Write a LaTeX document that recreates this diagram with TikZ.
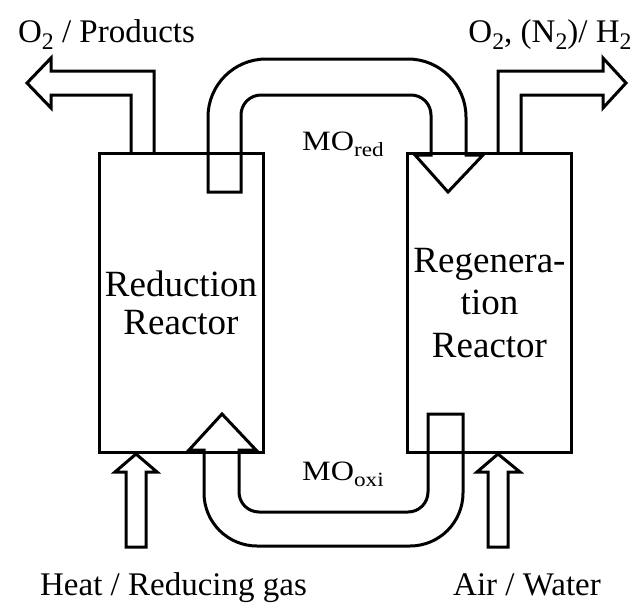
\documentclass[tikz,border=0pt]{standalone}
\usepackage{fontspec}
\setmainfont{Liberation Serif}
\usepackage{graphicx}
\newcommand\lowsub[1]{\raisebox{-0.22em}{\scalebox{0.72}{#1}}}

\begin{document}
\begin{tikzpicture}[
        x=1pt, y=-1pt,
        reactor/.style={rectangle, draw=black, line width=3pt, minimum width=164pt, minimum height=299pt, align=center, inner sep=0pt},
        blockarrow/.style={draw=black, line width=3pt, line join=miter},
        pipe/.style={draw=black, line width=3pt, line join=miter},
        flowlabel/.style={font=\fontsize{33}{38}\selectfont, inner sep=0pt, anchor=base},
        oxide/.style={font=\fontsize{28}{32}\selectfont, inner sep=0pt, anchor=base west}
    ]
    \useasboundingbox (0,0) rectangle (638,606);

    \node[reactor, font=\fontsize{37}{38}\selectfont] (redreactor) at (181,302.5) {Reduction\\Reactor};
    \node[reactor, font=\fontsize{37}{42.5}\selectfont] (regreactor) at (489.5,303) {Regenera-\\tion\\Reactor};

    \draw[blockarrow] (131,153) -- (131,95) -- (51,95) -- (51,108) -- (27,83) -- (51,58) -- (51,71) -- (154,71) -- (154,153);
    \draw[blockarrow] (498,153) -- (498,71) -- (603,71) -- (603,58) -- (626,83) -- (603,108) -- (603,95) -- (521,95) -- (521,153);

    \draw[blockarrow] (126,547) -- (126,472) -- (115,472) -- (136,454) -- (157,472) -- (146,472) -- (146,547) -- cycle;
    \draw[blockarrow] (488,547) -- (488,472) -- (477,472) -- (498,454) -- (520,472) -- (508,472) -- (508,547) -- cycle;

    \draw[pipe] (208,192) -- (208,117) arc[start angle=180, end angle=270, radius=58]
        -- (408,59) arc[start angle=270, end angle=360, radius=58]
        -- (466,155) -- (483,155) -- (448,192) -- (415,155) -- (431,155)
        -- (431,115) arc[start angle=0, end angle=-90, radius=20]
        -- (261,95) arc[start angle=270, end angle=180, radius=20]
        -- (241,192) -- cycle;

    \draw[pipe] (463,414) -- (463,493) arc[start angle=0, end angle=90, radius=53]
        -- (257,546) arc[start angle=90, end angle=180, radius=53]
        -- (204,450) -- (189,450) -- (222,414) -- (256,450) -- (239,450)
        -- (239,492) arc[start angle=180, end angle=90, radius=20]
        -- (408,512) arc[start angle=90, end angle=0, radius=20]
        -- (428,414) -- cycle;

    \node[flowlabel] (prodout) at (106.5,42) {O\lowsub{2} / Products};
    \node[flowlabel] (gasout) at (550,42) {O\lowsub{2}, (N\lowsub{2})/ H\lowsub{2}};
    \node[flowlabel] (heatin) at (173.5,595) {Heat / Reducing gas};
    \node[flowlabel] (airin) at (527,595) {Air / Water};

    \node[oxide] (mored) at (302,150) {\scalebox{1.15}[1]{MO\lowsub{red}}};
    \node[oxide] (mooxi) at (302,480) {\scalebox{1.15}[1]{MO\lowsub{oxi}}};
\end{tikzpicture}
\end{document}
